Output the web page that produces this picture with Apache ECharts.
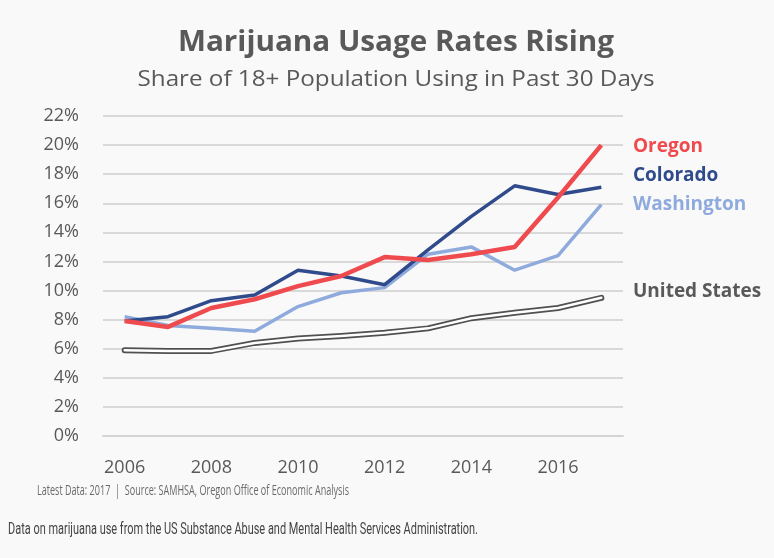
<!DOCTYPE html>
<html><head><meta charset="utf-8">
<script src="https://cdn.jsdelivr.net/npm/echarts@6/dist/echarts.min.js"></script>
<style>html,body{margin:0;padding:0;background:#f9f9f9;}#c{width:774px;height:558px;}</style>
</head><body><div id="c"></div>
<script>
const years = ['2006','2007','2008','2009','2010','2011','2012','2013','2014','2015','2016','2017'];
const oregon     = [7.9, 7.5, 8.8, 9.4, 10.3, 11.0, 12.3, 12.1, 12.5, 13.0, 16.4, 20.0];
const colorado   = [7.9, 8.2, 9.3, 9.7, 11.4, 11.0, 10.4, 12.8, 15.1, 17.2, 16.6, 17.1];
const washington = [8.2, 7.6, 7.4, 7.2, 8.9, 9.85, 10.2, 12.5, 13.0, 11.4, 12.4, 15.9];
const unitedStates = [5.9, 5.85, 5.85, 6.4, 6.7, 6.87, 7.1, 7.4, 8.1, 8.47, 8.8, 9.5];
const seriesNames = ['Oregon','Colorado','Washington','United States'];
const yTicks = [0, 2, 4, 6, 8, 10, 12, 14, 16, 18, 20, 22];

const F = '"Open Sans", "Noto Sans", sans-serif';
const R = 'Roboto, "Noto Sans", sans-serif';
const ctx = document.createElement('canvas').getContext('2d');
function fitScale(text, font, target) { ctx.font = font; return target / ctx.measureText(text).width; }

const titleText = 'Marijuana Usage Rates Rising';
const subText = 'Share of 18+ Population Using in Past 30 Days';
const srcText = 'Latest Data: 2017  |  Source: SAMHSA, Oregon Office of Economic Analysis';
const capText = 'Data on marijuana use from the US Substance Abuse and Mental Health Services Administration.';
const titleFont = 'bold 28px ' + F, subFont = '21px ' + F, srcFont = '15px ' + F, capFont = '16px ' + R;

const chart = echarts.init(document.getElementById('c'));
chart.setOption({
  backgroundColor: '#f9f9f9',
  animation: false,
  grid: {left: 103, right: 151, top: 116, bottom: 122},
  xAxis: {
    type: 'category', data: years, boundaryGap: true,
    axisLine: {show: true, lineStyle: {color: '#d4d4d4', width: 2}},
    axisTick: {show: false},
    axisLabel: {interval: 1, color: '#595959', fontSize: 18, fontFamily: F, margin: 23}
  },
  yAxis: {
    type: 'value', min: yTicks[0], max: yTicks[yTicks.length-1], interval: 2,
    axisLine: {show: false}, axisTick: {show: false},
    splitLine: {lineStyle: {color: '#d9d9d9', width: 2}},
    axisLabel: {color: '#595959', fontSize: 18, fontFamily: F, margin: 24, formatter: v => v + '%'}
  },
  series: [
    {name: seriesNames[3]+' outline', type: 'line', data: unitedStates, symbol: 'none', z: 2,
     lineStyle: {color: '#505050', width: 6, cap: 'round', join: 'round'}},
    {name: seriesNames[3], type: 'line', data: unitedStates, symbol: 'none', z: 3,
     lineStyle: {color: '#ffffff', width: 2.5, cap: 'round', join: 'round'}},
    {name: seriesNames[2], type: 'line', data: washington, symbol: 'none', z: 4,
     lineStyle: {color: '#8faadc', width: 3.5}},
    {name: seriesNames[1], type: 'line', data: colorado, symbol: 'none', z: 5,
     lineStyle: {color: '#2f4b8c', width: 3.5}},
    {name: seriesNames[0], type: 'line', data: oregon, symbol: 'none', z: 6,
     lineStyle: {color: '#ef4b4f', width: 4.5}}
  ],
  graphic: [
    {type: 'text', x: 396, y: 29, scaleX: fitScale(titleText, titleFont, 436),
     style: {x: 0, y: 0, text: titleText, align: 'center', verticalAlign: 'top', fill: '#595959', font: titleFont}},
    {type: 'text', x: 396, y: 70, scaleX: fitScale(subText, subFont, 517),
     style: {x: 0, y: 0, text: subText, align: 'center', verticalAlign: 'top', fill: '#595959', font: subFont}},
    {type: 'text', left: 633, top: 137, style: {text: seriesNames[0], fill: '#ef4b4f', font: 'bold 19px ' + F}},
    {type: 'text', left: 633, top: 166, style: {text: seriesNames[1], fill: '#2f4b8c', font: 'bold 19px ' + F}},
    {type: 'text', left: 633, top: 195, style: {text: seriesNames[2], fill: '#8faadc', font: 'bold 19px ' + F}},
    {type: 'text', left: 633, top: 282, style: {text: seriesNames[3], fill: '#595959', font: 'bold 19px ' + F}},
    {type: 'text', x: 37, y: 483, scaleX: fitScale(srcText, srcFont, 312),
     style: {x: 0, y: 0, text: srcText, align: 'left', verticalAlign: 'top', fill: '#6a6a6a', font: srcFont}},
    {type: 'text', x: 8, y: 522, scaleX: fitScale(capText, capFont, 470),
     style: {x: 0, y: 0, text: capText, align: 'left', verticalAlign: 'top', fill: '#444444', font: capFont}}
  ]
});
</script></body></html>
